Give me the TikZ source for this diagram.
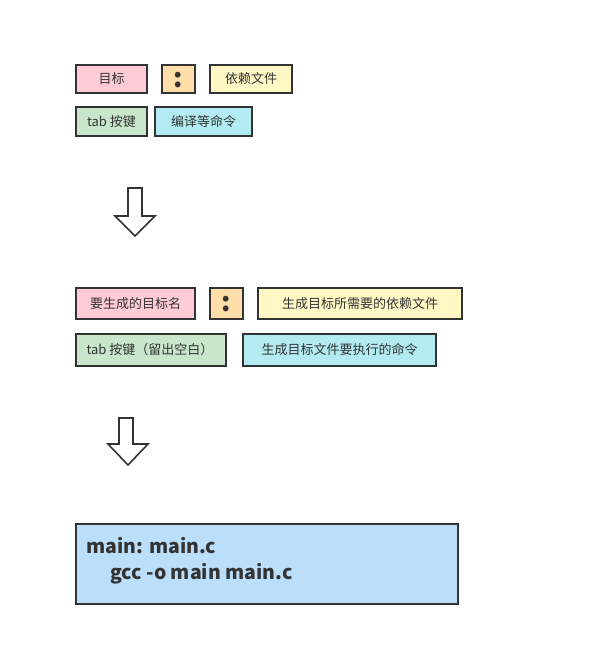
\documentclass[tikz,border=0pt]{standalone}
\usepackage{fontspec}
\setmainfont{Noto Sans CJK SC}
\usetikzlibrary{positioning}
\definecolor{ink}{HTML}{333333}
\definecolor{cpink}{HTML}{FFCCD5}
\definecolor{corange}{HTML}{FFDEAA}
\definecolor{cyellow}{HTML}{FFF8C5}
\definecolor{cgreen}{HTML}{C8E6C9}
\definecolor{ccyan}{HTML}{B2EBF2}
\definecolor{cblue}{HTML}{BBDEFB}
\tikzset{
  box/.style={draw=ink, line width=1.5pt},
  lbl/.style={text=ink, inner sep=0pt, font=\fontsize{9.75}{12}\selectfont},
  colon/.style={text=ink, inner sep=0pt, font=\fontsize{20}{20}\selectfont\bfseries},
  bigarrow/.style={draw=ink, line width=1.2pt, fill=white, line join=miter},
  codetext/.style={anchor=base west, inner sep=0pt, font=\fontsize{14.6}{18}\selectfont\bfseries, text=ink}
}
\begin{document}
\begin{tikzpicture}[x=0.75pt,y=-0.75pt]
\useasboundingbox (0,0) rectangle (611,668);
% row 1
\draw[box, fill=cpink] (76,65) rectangle (147,93);
\node[lbl] (a1) at (111.5,79) {目标};
\draw[box, fill=corange] (162,65) rectangle (195,93);
\node[colon] (a2) at (178.5,80) {:};
\draw[box, fill=cyellow] (210,65) rectangle (292,93);
\node[lbl] (a3) at (251,79) {依赖文件};
% row 2
\draw[box, fill=cgreen] (76,107) rectangle (147,136);
\node[lbl] (b1) at (111.5,121.5) {tab 按键};
\draw[box, fill=ccyan] (155,107) rectangle (252,136);
\node[lbl] (b2) at (203.5,121.5) {编译等命令};
% arrow 1
\draw[bigarrow] (128,188) -- (142,188) -- (142,216) -- (155,216) -- (135,236) -- (115,216) -- (128,216) -- cycle;
% row 3
\draw[box, fill=cpink] (76,288) rectangle (195,319);
\node[lbl] (c1) at (135.5,303.5) {要生成的目标名};
\draw[box, fill=corange] (210,288) rectangle (243,319);
\node[colon] (c2) at (226.5,304.5) {:};
\draw[box, fill=cyellow] (258,288) rectangle (462,319);
\node[lbl] (c3) at (360,303.5) {生成目标所需要的依赖文件};
% row 4
\draw[box, fill=cgreen] (76,334) rectangle (226,366);
\node[lbl] (d1) at (150,350) {tab 按键（留出空白）};
\draw[box, fill=ccyan] (243,334) rectangle (436,366);
\node[lbl] (d2) at (339.5,350) {生成目标文件要执行的命令};
% arrow 2
\draw[bigarrow] (119,418) -- (133,418) -- (133,444) -- (148,444) -- (128,465) -- (108,444) -- (119,444) -- cycle;
% code box
\draw[box, fill=cblue] (76,524) rectangle (458,604);
\node[codetext] (e1) at (86,553) {main: main.c};
\node[codetext] (e2) at (110,579) {gcc -o main main.c};
\end{tikzpicture}
\end{document}
